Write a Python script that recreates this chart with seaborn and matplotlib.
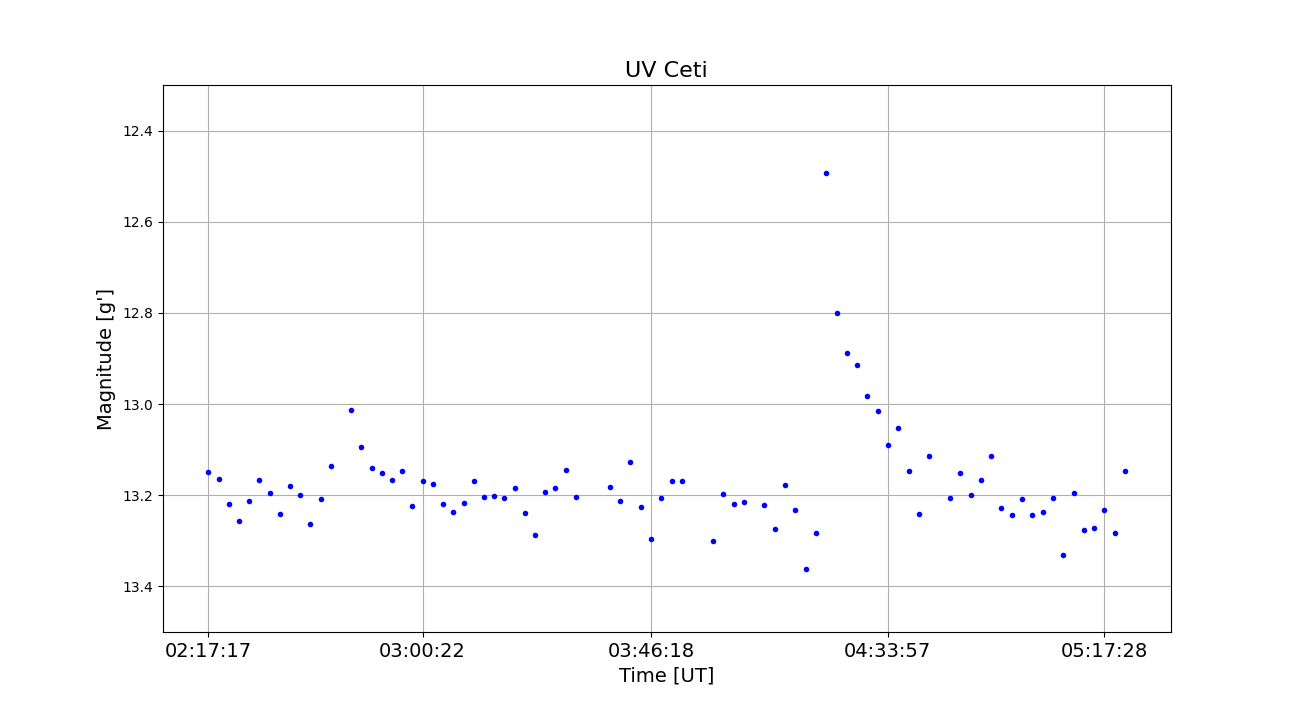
import matplotlib
matplotlib.use("Agg")
import matplotlib.pyplot as plt
import seaborn as sns
import pandas as pd

times = [
    "02:17:17", "02:19:30", "02:21:30", "02:23:31", "02:25:32", "02:27:32", "02:29:45",
    "02:31:42", "02:33:43", "02:35:47", "02:37:48", "02:40:00", "02:42:01", "02:46:02",
    "02:48:03", "02:50:16", "02:52:17", "02:54:17", "02:56:18", "02:58:18", "03:00:22",
    "03:02:23", "03:04:24", "03:06:25", "03:08:38", "03:10:38", "03:12:39", "03:14:40",
    "03:16:41", "03:18:54", "03:20:55", "03:22:56", "03:24:57", "03:26:58", "03:29:11",
    "03:31:12", "03:38:02", "03:40:03", "03:42:04", "03:44:17", "03:46:18", "03:48:19",
    "03:50:31", "03:52:32", "03:58:46", "04:00:47", "04:02:59", "04:05:00", "04:09:01",
    "04:11:14", "04:13:15", "04:15:16", "04:17:28", "04:19:29", "04:21:29", "04:23:42",
    "04:25:43", "04:27:43", "04:29:44", "04:31:57", "04:33:57", "04:35:58", "04:38:11",
    "04:40:12", "04:42:13", "04:46:26", "04:48:27", "04:50:40", "04:52:41", "04:54:42",
    "04:56:43", "04:58:56", "05:00:57", "05:02:58", "05:05:11", "05:07:12", "05:09:13",
    "05:11:26", "05:13:27", "05:15:28", "05:17:28", "05:19:41", "05:21:42",
]

magnitudes = [
    13.149, 13.165, 13.220, 13.256, 13.213, 13.167, 13.196, 13.242, 13.180, 13.200,
    13.264, 13.209, 13.136, 13.013, 13.095, 13.141, 13.152, 13.167, 13.147, 13.224,
    13.169, 13.176, 13.220, 13.237, 13.218, 13.169, 13.204, 13.202, 13.207, 13.185,
    13.240, 13.288, 13.193, 13.185, 13.145, 13.204, 13.182, 13.213, 13.127, 13.226,
    13.297, 13.207, 13.169, 13.169, 13.301, 13.198, 13.220, 13.215, 13.222, 13.275,
    13.178, 13.233, 13.363, 13.284, 12.492, 12.800, 12.888, 12.914, 12.982, 13.015,
    13.090, 13.053, 13.147, 13.242, 13.114, 13.207, 13.152, 13.200, 13.167, 13.114,
    13.229, 13.244, 13.209, 13.244, 13.237, 13.207, 13.332, 13.196, 13.277, 13.273,
    13.233, 13.284, 13.147,
]

tick_labels = ["02:17:17", "03:00:22", "03:46:18", "04:33:57", "05:17:28"]
y_ticks = [12.4, 12.6, 12.8, 13.0, 13.2, 13.4]


def to_sec(s):
    h, m, sec = (int(v) for v in s.split(":"))
    return h * 3600 + m * 60 + sec


df = pd.DataFrame({"t": [to_sec(t) for t in times], "mag": magnitudes})

fig, ax = plt.subplots(figsize=(13.01, 7.10), dpi=100)
sns.scatterplot(data=df, x="t", y="mag", color="blue", s=16, linewidth=0, ax=ax, zorder=3)

ax.set_ylim(13.5, 12.3)
ax.set_yticks(y_ticks)
ax.set_xticks([to_sec(t) for t in tick_labels])
ax.set_xticklabels(tick_labels, fontsize=14)
ax.tick_params(axis="y", labelsize=10)
ax.grid(True, color="#b0b0b0", linewidth=0.8)
ax.set_axisbelow(True)

ax.set_title("UV Ceti", fontsize=16)
ax.set_xlabel("Time [UT]", fontsize=14)
ax.set_ylabel("Magnitude [g']", fontsize=14)

fig.savefig("out.png", dpi=100)
